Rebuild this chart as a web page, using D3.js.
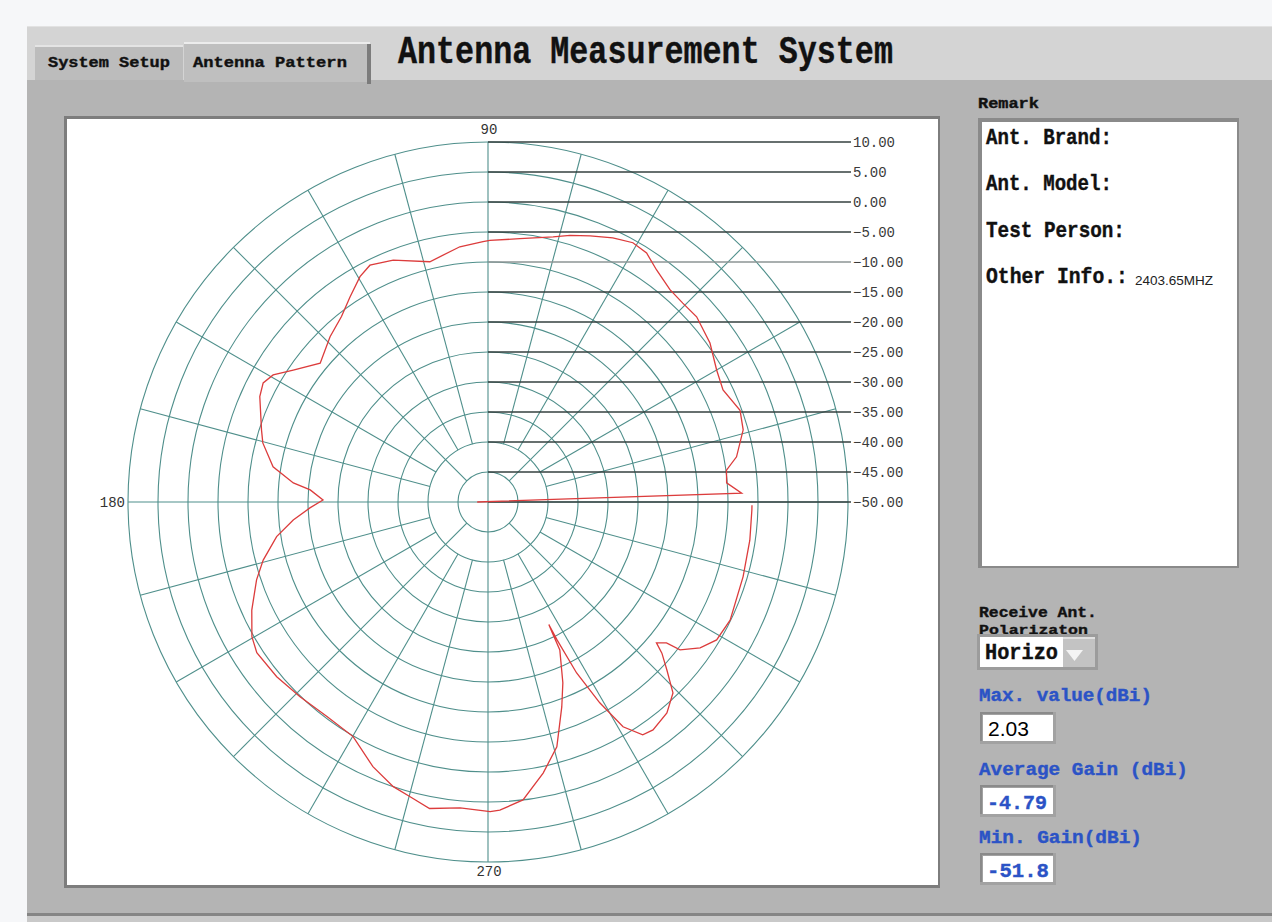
<!DOCTYPE html>
<html>
<head>
<meta charset="utf-8">
<script src="https://cdn.jsdelivr.net/npm/d3@7/dist/d3.min.js"></script>
<style>
  body { margin: 0; background: #f6f7f9; }
  svg { display: block; }
</style>
</head>
<body>
<svg id="chart" width="1272" height="922"></svg>
<script>
// pattern samples: angle (deg, ccw from 0 at right) and gain (dBi)
const angleDeg = [0, 2.0, 4.6, 7.6, 10.3, 15.8, 20.0, 25.5, 30.0, 35.6, 41.6, 45.6, 49.4, 54.0, 57.5, 60.8,
  64.7, 69.0, 72.9, 76.2, 83.1, 89.6, 91.1, 96.3, 103.6, 111.4, 116.5, 119.6, 123.9, 128.3, 133.7,
  140.4, 145.9, 149.4, 152.1, 155.2, 162.4, 165.3, 170.7, 174.4, 176.1, 179.3, 181.9, 185.3, 189.3,
  194.5, 198.6, 204.6, 209.7, 213.1, 219.6, 226.0, 233.1, 240.1, 246.5, 251.6, 255.2, 259.2, 264.8,
  270.4, 272.2, 276.7, 281.5, 285.7, 289.8, 292.5, 295.9, 296.2, 296.4, 296.6, 297.4, 299.1, 301.0,
  303.6, 305.9, 310.3, 314.1, 316.8, 319.0, 320.1, 321.7, 322.4, 325.5, 328.9, 334.0, 343.7, 351.7,
  358.3, 359.3];
const gainDb = [-51.8, -7.7, -10.1, -9.9, -7.9, -5.8, -5.3, -6.6, -6.0, -4.5, -3.5, -3.6, -3.4, -2.2, -0.8, -0.5,
  -1.3, -2.5, -3.5, -4.5, -5.8, -6.4, -6.6, -7.2, -8.8, -6.7, -5.9, -6.8, -8.8, -10.6, -11.9,
  -13.7, -10.8, -8.4, -7.6, -8.1, -10.4, -11.2, -13.7, -17.4, -20.3, -22.5, -20.3, -17.4, -14.3,
  -11.3, -9.3, -6.7, -4.7, -4.0, -4.3, -4.9, -5.3, -4.9, -1.9, 0.0, 0.8, 2.0, 1.2,
  1.6, 1.4, 0.0, -3.9, -7.6, -13.7, -17.4, -22.6, -25.9, -27.2, -24.3, -17.9, -11.7, -6.3,
  -3.4, -3.1, -3.9, -5.7, -9.1, -11.6, -13.4, -12.1, -9.6, -7.1, -5.5, -5.1, -5.7, -5.9,
  -6.0, -6.0];

const radialTicks = d3.range(-50, 10.001, 5);   // dB rings
const spokeAngles = d3.range(0, 360, 15);       // angular grid
const angleLabels = [90, 180, 270];

const remarkLines = ["Ant. Brand:", "Ant. Model:", "Test Person:", "Other Info.:"];
const otherInfo = "2403.65MHZ";
const polarization = "Horizo";
const maxValue = "2.03";
const avgGain = "-4.79";
const minGain = "-51.8";

const monoFont = "'Liberation Mono', 'DejaVu Sans Mono', monospace";
const sansFont = "'Liberation Sans', Arial, sans-serif";

const svg = d3.select("#chart");

// bold mono label, squeezed horizontally to a given width
function uiText(parent, str, x, y, size, len, color) {
  let c = color || "#111";
  let t = parent.append("text")
    .attr("font-family", monoFont)
    .attr("font-weight", "bold")
    .attr("font-size", size)
    .attr("fill", c)
    .attr("stroke", c)
    .attr("stroke-width", 0.4)
    .text(str);
  let sx = 1;
  if (len) sx = len / t.node().getComputedTextLength();
  t.attr("transform", `translate(${x},${y}) scale(${sx},1)`);
  return t;
}

function sunkenBox(parent, x, y, w, h) {
  parent.append("rect").attr("x", x - 3).attr("y", y - 3).attr("width", w + 6).attr("height", h + 6).attr("fill", "#a2a2a2");
  parent.append("rect").attr("x", x - 3).attr("y", y - 3).attr("width", w + 3).attr("height", 2).attr("fill", "#8a8a8a");
  parent.append("rect").attr("x", x - 3).attr("y", y - 3).attr("width", 2).attr("height", h + 3).attr("fill", "#8a8a8a");
  parent.append("rect").attr("x", x).attr("y", y).attr("width", w).attr("height", h).attr("fill", "#fff");
}

// ---------- window chrome ----------
svg.append("rect").attr("x", 27).attr("y", 26).attr("width", 1245).attr("height", 896).attr("fill", "#b4b4b4");
svg.append("rect").attr("x", 27).attr("y", 26).attr("width", 1245).attr("height", 54).attr("fill", "#d4d4d4");
svg.append("rect").attr("x", 27).attr("y", 26).attr("width", 1245).attr("height", 1).attr("fill", "#e2e2e2");
svg.append("rect").attr("x", 27).attr("y", 913).attr("width", 1245).attr("height", 3).attr("fill", "#858585");
svg.append("rect").attr("x", 27).attr("y", 916).attr("width", 1245).attr("height", 6).attr("fill", "#c9c9c9");

// tabs
const tabs = svg.append("g");
tabs.append("rect").attr("x", 35).attr("y", 45).attr("width", 148).attr("height", 35).attr("fill", "#bcbcbc");
tabs.append("rect").attr("x", 35).attr("y", 45).attr("width", 148).attr("height", 2).attr("fill", "#e4e4e4");
tabs.append("rect").attr("x", 184).attr("y", 42).attr("width", 186).attr("height", 40).attr("fill", "#bfbfbf");
tabs.append("rect").attr("x", 184).attr("y", 42).attr("width", 186).attr("height", 2).attr("fill", "#ececec");
tabs.append("rect").attr("x", 367).attr("y", 44).attr("width", 4).attr("height", 40).attr("fill", "#7c7c7c");
uiText(tabs, "System Setup", 48, 67, 15, 122);
uiText(tabs, "Antenna Pattern", 193, 67, 15, 154);

uiText(svg, "Antenna Measurement System", 398, 63, 38, 495);

// ---------- polar plot ----------
const cx = 488, cy = 502, R = 360;
const rScale = d3.scaleLinear().domain([-50, 10]).range([0, R]);

svg.append("rect").attr("x", 64).attr("y", 116).attr("width", 876).attr("height", 772).attr("fill", "#7d7d7d");
svg.append("rect").attr("x", 67).attr("y", 119).attr("width", 871).attr("height", 766).attr("fill", "#fff");

const plot = svg.append("g").attr("transform", `translate(${cx},${cy})`);
const gridColor = "#4f8f8b";

// rings
plot.selectAll("circle.ring")
  .data(radialTicks.filter(d => d > -50))
  .join("circle")
  .attr("class", "ring")
  .attr("r", d => rScale(d))
  .attr("fill", "none")
  .attr("stroke", gridColor)
  .attr("stroke-width", 1.1);

// spokes: 90 deg ones from the centre, 45 deg from first ring, the rest from second ring
function spokeStart(a) {
  if (a % 90 === 0) return 0;
  if (a % 45 === 0) return rScale(-45);
  return rScale(-40);
}
plot.selectAll("line.spoke")
  .data(spokeAngles)
  .join("line")
  .attr("class", "spoke")
  .attr("x1", a => spokeStart(a) * Math.cos(a * Math.PI / 180))
  .attr("y1", a => -spokeStart(a) * Math.sin(a * Math.PI / 180))
  .attr("x2", a => R * Math.cos(a * Math.PI / 180))
  .attr("y2", a => -R * Math.sin(a * Math.PI / 180))
  .attr("stroke", gridColor)
  .attr("stroke-width", 1.1);

// radial axis: horizontal tick lines with labels on the right
const fmt = d3.format(".2f");
plot.selectAll("line.rtick")
  .data(radialTicks)
  .join("line")
  .attr("class", "rtick")
  .attr("x1", 0)
  .attr("x2", R + 3)
  .attr("y1", d => -rScale(d))
  .attr("y2", d => -rScale(d))
  .attr("stroke", d => d === -10 ? "#8c9494" : "#34403f")
  .attr("stroke-width", 1.3);

plot.selectAll("text.rlabel")
  .data(radialTicks)
  .join("text")
  .attr("class", "rlabel")
  .attr("x", R + 5)
  .attr("y", d => -rScale(d) + 5)
  .attr("font-family", monoFont)
  .attr("font-size", 14)
  .attr("fill", "#3a3a3a")
  .text(d => fmt(d));

// angle labels
plot.selectAll("text.alabel")
  .data(angleLabels)
  .join("text")
  .attr("class", "alabel")
  .attr("x", a => a === 180 ? -R - 3 : 1)
  .attr("y", a => a === 90 ? -R - 8 : (a === 270 ? R + 14 : 5))
  .attr("text-anchor", a => a === 180 ? "end" : "middle")
  .attr("font-family", monoFont)
  .attr("font-size", 14)
  .attr("fill", "#333")
  .text(a => a);

// measured pattern
const pattern = angleDeg.map((a, i) => ({ a: a, g: gainDb[i] }));
const line = d3.lineRadial()
  .angle(d => (90 - d.a) * Math.PI / 180)
  .radius(d => rScale(d.g));
plot.append("path")
  .datum(pattern)
  .attr("d", line)
  .attr("fill", "none")
  .attr("stroke", "#dc3c3c")
  .attr("stroke-width", 1.3);

// ---------- right panel ----------
const side = svg.append("g");
uiText(side, "Remark", 978, 108, 15, 61);
side.append("rect").attr("x", 978).attr("y", 118).attr("width", 261).attr("height", 450).attr("fill", "#8a8a8a");
side.append("rect").attr("x", 982).attr("y", 122).attr("width", 255).attr("height", 444).attr("fill", "#fff");
const remarkLen = [126, 126, 139, 142];
remarkLines.forEach((s, i) => {
  uiText(side, s, 986, 143.5 + i * 46.5, 22, remarkLen[i]);
});
side.append("text")
  .attr("x", 1135).attr("y", 285)
  .attr("font-family", sansFont)
  .attr("font-size", 13.5)
  .attr("fill", "#222")
  .text(otherInfo);

uiText(side, "Receive Ant.", 979, 617, 15, 118);
uiText(side, "Polarizaton", 979, 634, 13, 109);

// dropdown
side.append("rect").attr("x", 977).attr("y", 634).attr("width", 121).attr("height", 36).attr("fill", "#9c9c9c");
side.append("rect").attr("x", 980).attr("y", 637).attr("width", 83).attr("height", 30).attr("fill", "#fff");
side.append("rect").attr("x", 1063).attr("y", 637).attr("width", 32).attr("height", 30).attr("fill", "#c3c3c3");
side.append("rect").attr("x", 1063).attr("y", 637).attr("width", 32).attr("height", 2).attr("fill", "#e0e0e0");
side.append("path")
  .attr("d", "M1066,650 L1083,650 L1074.5,661 Z")
  .attr("fill", "#f4f4f4");
uiText(side, polarization, 985, 659, 22, 73);

const blue = "#2b53c6";
uiText(side, "Max. value(dBi)", 979, 701, 18, 173, blue);
sunkenBox(side, 983, 715, 70, 26);
side.append("text")
  .attr("x", 988).attr("y", 736)
  .attr("font-family", sansFont)
  .attr("font-size", 21)
  .attr("fill", "#000")
  .text(maxValue);

uiText(side, "Average Gain (dBi)", 979, 775, 18, 209, blue);
sunkenBox(side, 983, 788, 70, 26);
uiText(side, avgGain, 987, 809, 21, 60, blue);

uiText(side, "Min. Gain(dBi)", 979, 843, 18, 163, blue);
sunkenBox(side, 983, 856, 70, 26);
uiText(side, minGain, 987, 877, 21, 62, blue);
</script>
</body>
</html>
